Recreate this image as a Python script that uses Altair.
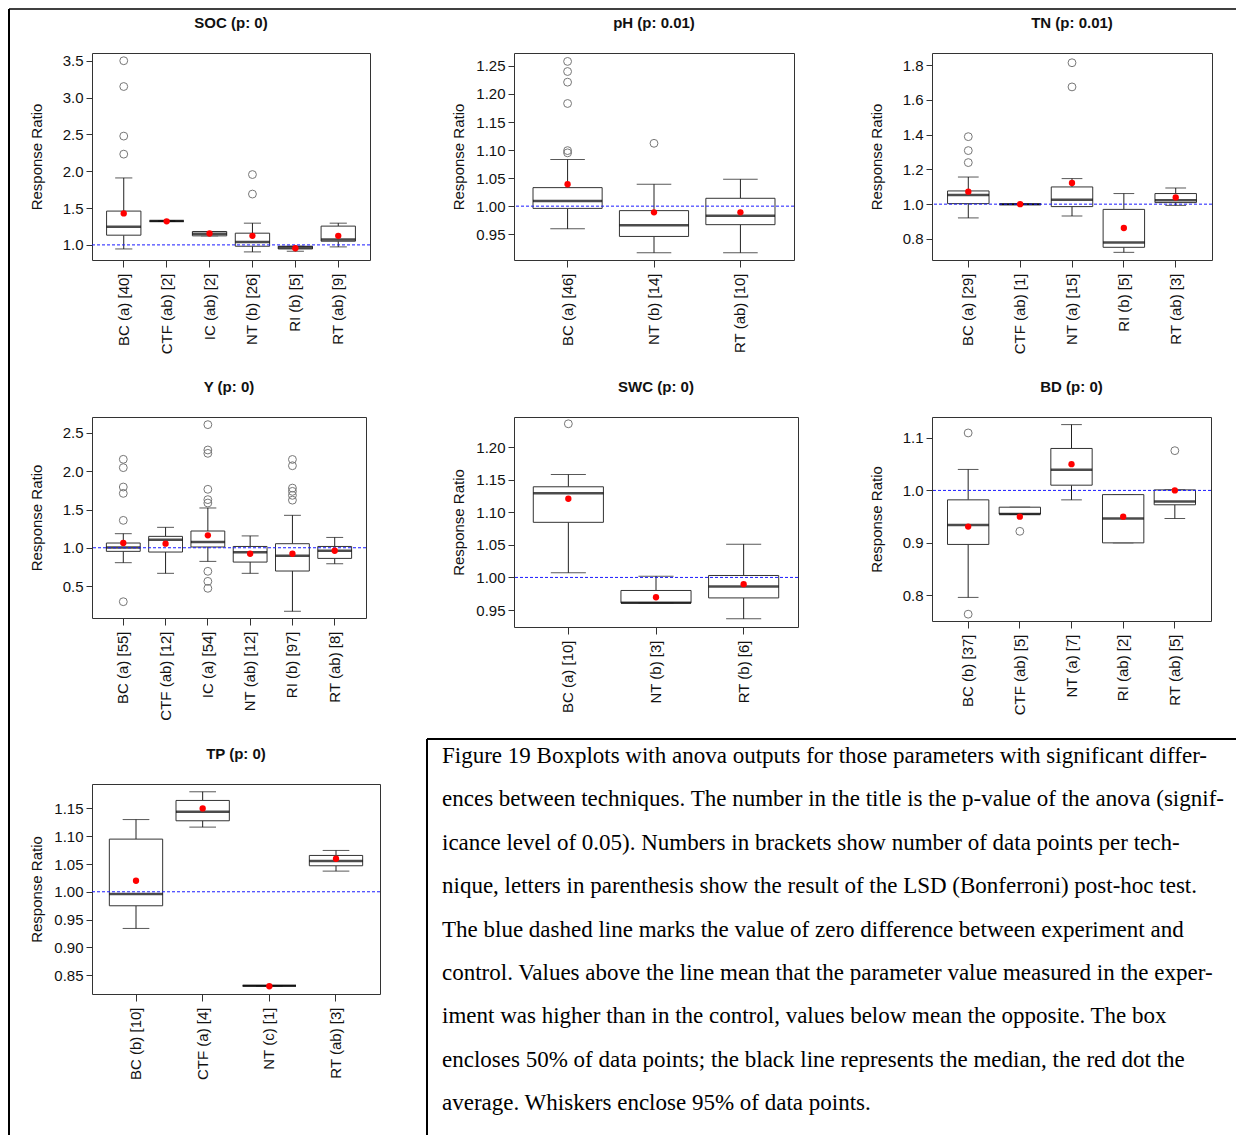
import altair as alt
import pandas as pd

REF_VALUE = 1.0

# ---------------- SOC ----------------
SOC_labels = ["BC (a) [40]", "CTF (ab) [2]", "IC (ab) [2]", "NT (b) [26]", "RI (b) [5]", "RT (ab) [9]"]
SOC_lo = [0.945, 1.323, 1.123, 0.905, 0.914, 0.973]
SOC_q1 = [1.132, 1.323, 1.123, 0.982, 0.945, 1.050]
SOC_med = [1.245, 1.323, 1.150, 1.041, 0.964, 1.073]
SOC_q3 = [1.459, 1.323, 1.182, 1.159, 0.982, 1.255]
SOC_hi = [1.909, 1.323, 1.182, 1.295, 0.982, 1.295]
SOC_mean = [1.427, 1.320, 1.155, 1.123, 0.955, 1.123]
SOC_out_cat = ["BC (a) [40]"] * 4 + ["NT (b) [26]"] * 2
SOC_out_val = [3.50, 3.15, 2.477, 2.232, 1.955, 1.69]
SOC_domain = [0.795, 3.605]
SOC_ticks = [1.0, 1.5, 2.0, 2.5, 3.0, 3.5]

# ---------------- pH ----------------
PH_labels = ["BC (a) [46]", "NT (b) [14]", "RT (ab) [10]"]
PH_lo = [0.9595, 0.917, 0.917]
PH_q1 = [0.996, 0.946, 0.967]
PH_med = [1.009, 0.966, 0.983]
PH_q3 = [1.033, 0.992, 1.014]
PH_hi = [1.083, 1.039, 1.048]
PH_mean = [1.039, 0.989, 0.989]
PH_out_cat = ["BC (a) [46]"] * 6 + ["NT (b) [14]"]
PH_out_val = [1.258, 1.240, 1.221, 1.183, 1.099, 1.095, 1.112]
PH_domain = [0.904, 1.273]
PH_ticks = [0.95, 1.00, 1.05, 1.10, 1.15, 1.20, 1.25]

# ---------------- TN ----------------
TN_labels = ["BC (a) [29]", "CTF (ab) [1]", "NT (a) [15]", "RI (b) [5]", "RT (ab) [3]"]
TN_lo = [0.921, 0.999, 0.932, 0.723, 0.993]
TN_q1 = [1.003, 0.999, 0.986, 0.752, 1.009]
TN_med = [1.053, 0.999, 1.026, 0.779, 1.022]
TN_q3 = [1.076, 0.999, 1.099, 0.970, 1.061]
TN_hi = [1.156, 0.999, 1.147, 1.061, 1.093]
TN_mean = [1.072, 1.000, 1.122, 0.863, 1.039]
TN_out_cat = ["BC (a) [29]"] * 3 + ["NT (a) [15]"] * 2
TN_out_val = [1.388, 1.308, 1.239, 1.813, 1.674]
TN_domain = [0.679, 1.869]
TN_ticks = [0.8, 1.0, 1.2, 1.4, 1.6, 1.8]

# ---------------- Y ----------------
Y_labels = ["BC (a) [55]", "CTF (ab) [12]", "IC (a) [54]", "NT (ab) [12]", "RI (b) [97]", "RT (ab) [8]"]
Y_lo = [0.805, 0.666, 0.822, 0.666, 0.170, 0.791]
Y_q1 = [0.953, 0.944, 1.010, 0.813, 0.696, 0.861]
Y_med = [1.005, 1.106, 1.075, 0.940, 0.896, 0.961]
Y_q3 = [1.062, 1.149, 1.219, 1.017, 1.053, 1.017]
Y_hi = [1.184, 1.267, 1.520, 1.155, 1.424, 1.135]
Y_mean = [1.062, 1.053, 1.162, 0.922, 0.922, 0.961]
Y_out_cat = ["BC (a) [55]"] * 6 + ["IC (a) [54]"] * 9 + ["RI (b) [97]"] * 6
Y_out_val = [2.156, 2.047, 1.794, 1.711, 1.358, 0.295,
             2.609, 2.278, 2.234, 1.764, 1.629, 1.585, 0.692, 0.561, 0.470,
             2.154, 2.072, 1.780, 1.737, 1.685, 1.622]
Y_domain = [0.082, 2.709]
Y_ticks = [0.5, 1.0, 1.5, 2.0, 2.5]

# ---------------- SWC ----------------
SWC_labels = ["BC (a) [10]", "NT (b) [3]", "RT (b) [6]"]
SWC_lo = [1.0072, 0.961, 0.9366]
SWC_q1 = [1.0845, 0.961, 0.9686]
SWC_med = [1.1289, 0.961, 0.986]
SWC_q3 = [1.139, 0.980, 1.003]
SWC_hi = [1.1577, 1.002, 1.051]
SWC_mean = [1.1206, 0.9696, 0.9897]
SWC_out_cat = ["BC (a) [10]"]
SWC_out_val = [1.2356]
SWC_domain = [0.924, 1.246]
SWC_ticks = [0.95, 1.00, 1.05, 1.10, 1.15, 1.20]

# ---------------- BD ----------------
BD_labels = ["BC (b) [37]", "CTF (ab) [5]", "NT (a) [7]", "RI (ab) [2]", "RT (ab) [5]"]
BD_lo = [0.796, 0.955, 0.982, 0.900, 0.9465]
BD_q1 = [0.897, 0.955, 1.010, 0.900, 0.9726]
BD_med = [0.934, 0.955, 1.0395, 0.9465, 0.979]
BD_q3 = [0.982, 0.968, 1.080, 0.992, 1.001]
BD_hi = [1.040, 0.968, 1.1255, 0.992, 1.001]
BD_mean = [0.931, 0.950, 1.050, 0.950, 1.000]
BD_out_cat = ["BC (b) [37]", "BC (b) [37]", "CTF (ab) [5]", "RT (ab) [5]"]
BD_out_val = [1.1096, 0.764, 0.922, 1.0758]
BD_domain = [0.751, 1.140]
BD_ticks = [0.8, 0.9, 1.0, 1.1]

# ---------------- TP ----------------
TP_labels = ["BC (b) [10]", "CTF (a) [4]", "NT (c) [1]", "RT (ab) [3]"]
TP_lo = [0.934, 1.1164, 0.8308, 1.0372]
TP_q1 = [0.9748, 1.1278, 0.8308, 1.0468]
TP_med = [0.9958, 1.144, 0.8308, 1.0552]
TP_q3 = [1.0948, 1.1644, 0.8308, 1.0654]
TP_hi = [1.130, 1.180, 0.8308, 1.0744]
TP_mean = [1.0198, 1.150, 0.830, 1.0594]
TP_out_cat = []
TP_out_val = []
TP_domain = [0.816, 1.194]
TP_ticks = [0.85, 0.90, 0.95, 1.00, 1.05, 1.10, 1.15]

CAPTION = [
    "Figure 19 Boxplots with anova outputs for those parameters with significant differ-",
    "ences between techniques. The number in the title is the p-value of the anova (signif-",
    "icance level of 0.05). Numbers in brackets show number of data points per tech-",
    "nique, letters in parenthesis show the result of the LSD (Bonferroni) post-hoc test.",
    "The blue dashed line marks the value of zero difference between experiment and",
    "control. Values above the line mean that the parameter value measured in the exper-",
    "iment was higher than in the control, values below mean the opposite. The box",
    "encloses 50% of data points; the black line represents the median, the red dot the",
    "average. Whiskers enclose 95% of data points.",
]

SANS = "Liberation Sans"
SERIF = "Liberation Serif"


def panel(title, labels, lo, q1, med, q3, hi, mean, out_cat, out_val,
          domain, ticks, fmt, w, h):
    n = len(labels)
    step = w / (1.08 * n)
    df = pd.DataFrame({"cat": labels, "lo": lo, "q1": q1, "med": med,
                       "q3": q3, "hi": hi, "mean": mean})
    rdf = pd.DataFrame({"ref": [REF_VALUE]})
    xscale = alt.Scale(domain=labels, paddingInner=0.2, paddingOuter=0.04 * n + 0.1)
    xaxis = alt.Axis(labelAngle=270, tickSize=7, labelPadding=6, domain=False,
                     grid=False, labelFontSize=15, labelFont=SANS,
                     tickColor="#333333", labelColor="#111111",
                     labelOverlap=False, labelLimit=300)
    yscale = alt.Scale(domain=domain, nice=False, zero=False)
    yaxis = alt.Axis(values=ticks, format=fmt, tickSize=6, labelPadding=3,
                     domain=False, grid=False, labelFontSize=15, labelFont=SANS,
                     titleFont=SANS, titleFontSize=15, titleFontWeight="normal",
                     titleX=-56, titleY=h / 2, titleAngle=270, titleAlign="center",
                     titleBaseline="middle", labelOverlap=False,
                     tickColor="#333333", labelColor="#111111", titleColor="#111111")

    def X():
        return alt.X("cat:N", scale=xscale, axis=xaxis, sort=labels, title=None)

    def Y(f):
        return alt.Y(f + ":Q", scale=yscale, axis=yaxis, title="Response Ratio")

    base = alt.Chart(df)
    layers = [
        base.mark_rule(color="#222222", strokeWidth=1).encode(x=X(), y=Y("q3"), y2=alt.Y2("hi")),
        base.mark_rule(color="#222222", strokeWidth=1).encode(x=X(), y=Y("lo"), y2=alt.Y2("q1")),
        base.mark_tick(color="#111111", size=0.4 * step, thickness=1).encode(x=X(), y=Y("hi")),
        base.mark_tick(color="#111111", size=0.4 * step, thickness=1).encode(x=X(), y=Y("lo")),
        base.mark_bar(fill="white", stroke="#333333", strokeWidth=1).encode(x=X(), y=Y("q1"), y2=alt.Y2("q3")),
        base.mark_tick(color="black", size=0.8 * step, thickness=2.5).encode(x=X(), y=Y("med")),
        alt.Chart(rdf).mark_rule(color="#1a1aff", strokeDash=[3, 2], strokeWidth=1).encode(y=Y("ref")),
    ]
    if len(out_val):
        odf = pd.DataFrame({"cat": out_cat, "val": out_val})
        layers.append(alt.Chart(odf).mark_point(shape="circle", filled=False, color="#777777",
                                                size=62, strokeWidth=1, opacity=1)
                      .encode(x=X(), y=Y("val")))
    layers.append(base.mark_circle(color="#ff0000", size=40, opacity=1).encode(x=X(), y=Y("mean")))
    return alt.layer(*layers).properties(
        width=w, height=h,
        title=alt.TitleParams(title, fontSize=15, fontWeight="bold", font=SANS,
                              anchor="middle", frame="group", offset=22, color="#111111"),
        view=alt.ViewBackground(stroke="#333333", strokeWidth=1),
    )


soc = panel("SOC (p: 0)", SOC_labels, SOC_lo, SOC_q1, SOC_med, SOC_q3, SOC_hi, SOC_mean,
            SOC_out_cat, SOC_out_val, SOC_domain, SOC_ticks, ".1f", 278, 207)
ph = panel("pH (p: 0.01)", PH_labels, PH_lo, PH_q1, PH_med, PH_q3, PH_hi, PH_mean,
           PH_out_cat, PH_out_val, PH_domain, PH_ticks, ".2f", 280, 207)
tn = panel("TN (p: 0.01)", TN_labels, TN_lo, TN_q1, TN_med, TN_q3, TN_hi, TN_mean,
           TN_out_cat, TN_out_val, TN_domain, TN_ticks, ".1f", 280, 207)
yc = panel("Y (p: 0)", Y_labels, Y_lo, Y_q1, Y_med, Y_q3, Y_hi, Y_mean,
           Y_out_cat, Y_out_val, Y_domain, Y_ticks, ".1f", 274, 201)
swc = panel("SWC (p: 0)", SWC_labels, SWC_lo, SWC_q1, SWC_med, SWC_q3, SWC_hi, SWC_mean,
            SWC_out_cat, SWC_out_val, SWC_domain, SWC_ticks, ".2f", 284, 210)
bd = panel("BD (p: 0)", BD_labels, BD_lo, BD_q1, BD_med, BD_q3, BD_hi, BD_mean,
           BD_out_cat, BD_out_val, BD_domain, BD_ticks, ".1f", 279, 204)
tp = panel("TP (p: 0)", TP_labels, TP_lo, TP_q1, TP_med, TP_q3, TP_hi, TP_mean,
           TP_out_cat, TP_out_val, TP_domain, TP_ticks, ".2f", 288, 210)

# ---- caption cell (drawn relative to grid cell at column 2, row 3) ----
BOX_X0, BOX_Y0 = -87, -45        # caption box corner relative to the cell
BOX_X1, BOX_Y1 = 722, 351
OUT_X0, OUT_Y0 = -505, -775      # outer frame corner
TH = 351
LINE_STEP = 43.4
d0 = 28 / LINE_STEP
d1 = d0 + TH / LINE_STEP
tdf = pd.DataFrame({"i": list(range(len(CAPTION))), "line": CAPTION})
fdf = pd.DataFrame({"k": [0]})
txt = alt.Chart(tdf).mark_text(align="left", baseline="middle", font=SERIF,
                               fontSize=23, color="black").encode(
    x=alt.value(BOX_X0 + 15),
    y=alt.Y("i:Q", scale=alt.Scale(domain=[d0, d1], reverse=True, nice=False, zero=False), axis=None),
    text="line:N",
)
frame = alt.Chart(fdf)
box_left = frame.mark_rule(color="black", strokeWidth=2).encode(
    x=alt.value(BOX_X0), y=alt.value(BOX_Y0), y2=alt.value(BOX_Y1))
box_top = frame.mark_rule(color="black", strokeWidth=2).encode(
    y=alt.value(BOX_Y0), x=alt.value(BOX_X0), x2=alt.value(BOX_X1))
outer_left = frame.mark_rule(color="black", strokeWidth=2).encode(
    x=alt.value(OUT_X0), y=alt.value(OUT_Y0), y2=alt.value(BOX_Y1))
outer_top = frame.mark_rule(color="black", strokeWidth=1.5).encode(
    y=alt.value(OUT_Y0), x=alt.value(OUT_X0), x2=alt.value(BOX_X1))
text_chart = alt.layer(txt, box_left, box_top, outer_left, outer_top).properties(
    width=1, height=TH, view=alt.ViewBackground(stroke="transparent", strokeWidth=0))

chart = alt.concat(soc, ph, tn, yc, swc, bd, tp, text_chart, columns=3,
                   spacing={"row": 157, "column": 134}, bounds="flush", align="each").properties(
    padding={"left": 0, "top": 0, "right": 0, "bottom": 0}
).configure_view(stroke="transparent").configure(background="white")

chart.save("out.html", embed_options={"renderer": "svg", "actions": False})
